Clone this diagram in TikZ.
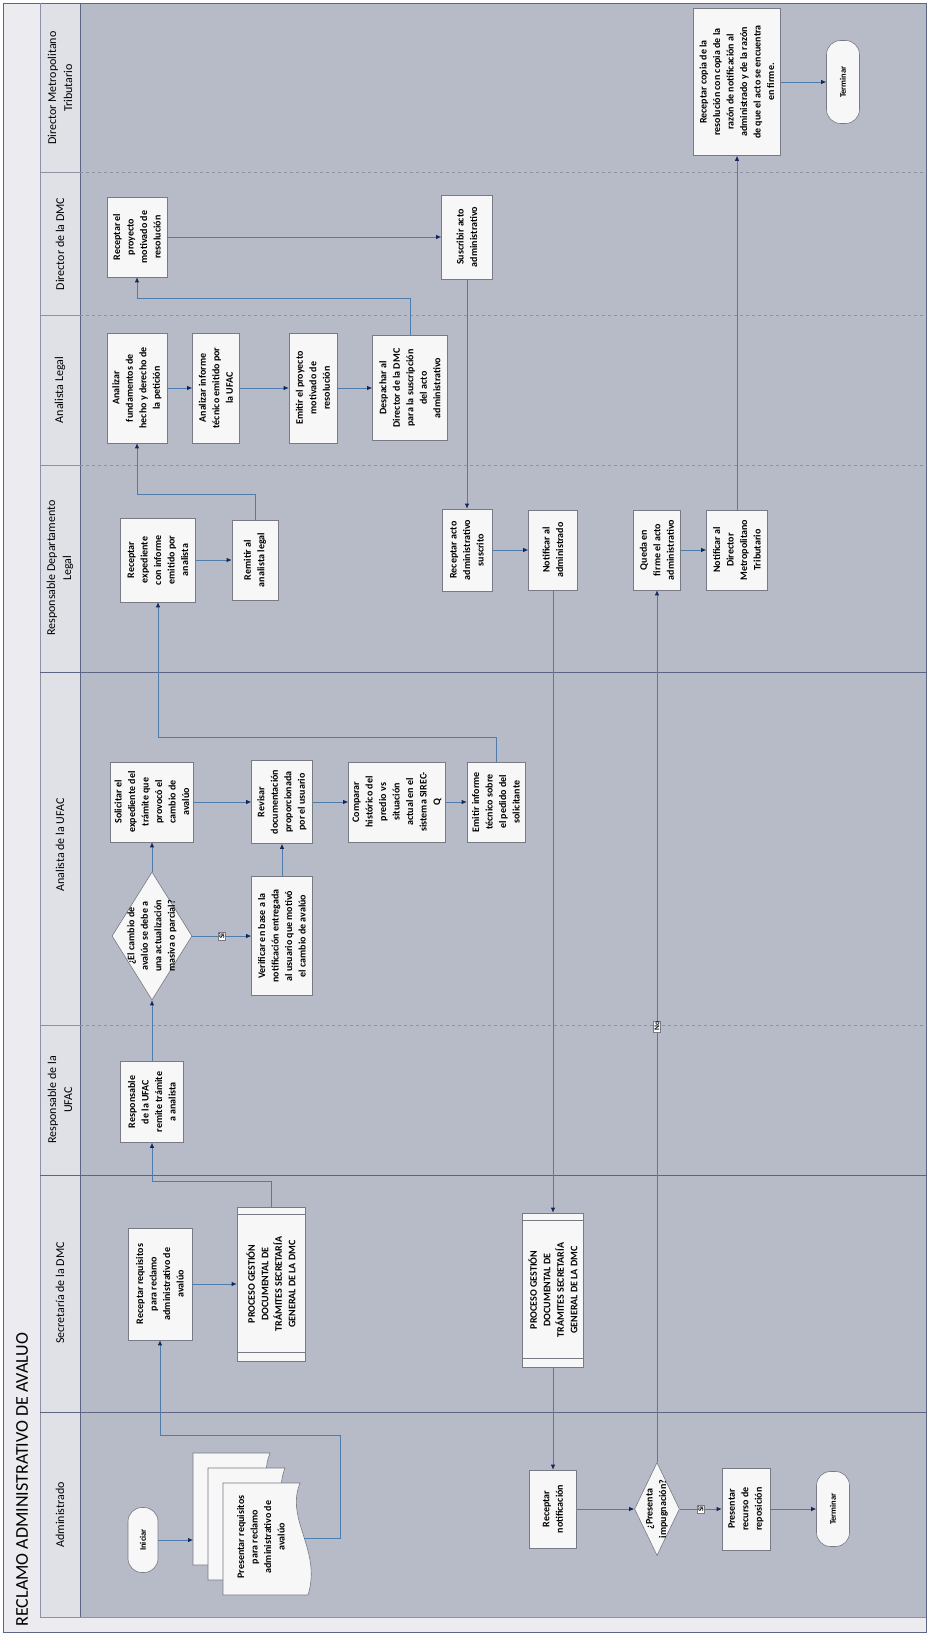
\documentclass[tikz,border=0pt]{standalone}
\usepackage{fontspec}
\setmainfont{Carlito}
\usepackage{graphicx}
\usetikzlibrary{arrows.meta,calc,shapes.geometric}
\definecolor{lanegray}{RGB}{183,187,199}
\definecolor{headgray}{RGB}{224,225,231}
\definecolor{titlegray}{RGB}{236,236,240}
\definecolor{lanerule}{RGB}{92,102,132}
\definecolor{lanedash}{RGB}{140,145,165}
\definecolor{flowblue}{RGB}{78,124,172}
\definecolor{tipnavy}{RGB}{22,38,92}
\definecolor{boxedge}{RGB}{120,122,132}
\definecolor{boxfill}{RGB}{247,247,247}
% vertical text block: width along the text, then the lines
\newcommand{\vt}[2]{\rotatebox{90}{\parbox{#1pt}{\centering #2}}}

\begin{document}
\begin{tikzpicture}[x=1pt, y=-1pt,
  every node/.style={font=\fontsize{10}{13.5}\selectfont\bfseries},
  task/.style={draw=boxedge, fill=boxfill, line width=0.6pt, inner sep=0pt},
  wh/.style 2 args={minimum width=#1, minimum height=#2},
  term/.style={task, rounded corners=14pt, font=\fontsize{8.5}{10}\selectfont\bfseries},
  decision/.style={task, diamond},
  docpage/.style={draw=boxedge, fill=boxfill, line width=0.6pt},
  flow/.style={draw=flowblue, line width=0.8pt, -{Latex[length=5pt,width=4.5pt,color=tipnavy]}},
  lbl/.style={fill=white, draw=boxedge, line width=0.4pt, inner sep=1pt, font=\fontsize{7.5}{8}\selectfont\bfseries},
  lanehead/.style={font=\fontsize{12}{16}\selectfont}]
  \useasboundingbox (0,0) rectangle (926,1637);

  % lanes
  \fill[titlegray] (3,3) rectangle (926,1632);
  \fill[headgray] (40,3) rectangle (80,1617);
  \fill[lanegray] (80,3) rectangle (926,1617);
  \draw[lanerule] (3,3) rectangle (926,1632);
  \draw[lanedash] (40,3) -- (40,1617) -- (926,1617);
  \draw[lanerule, line width=0.9pt] (80,3) -- (80,1617);
  \foreach \yy in {172,315,465,1025} {
    \draw[lanedash] (40,\yy) -- (80,\yy);
    \draw[lanedash, dashed] (80,\yy) -- (926,\yy);
  }
  \foreach \yy in {672,1175,1412}
    \draw[lanerule, line width=0.9pt] (40,\yy) -- (926,\yy);

  \node[anchor=south, font=\fontsize{18}{20}\selectfont] (title) at (22,1630) {\rotatebox{90}{RECLAMO ADMINISTRATIVO DE AVALUO}};
  \foreach \yy/\lname in {88/{Director Metropolitano\\Tributario}, 244/{Director de la DMC},
      390/{Analista Legal}, 568/{Responsable Departamento\\Legal}, 845/{Analista de la UFAC},
      1100/{Responsable de la\\UFAC}, 1293/{Secretaría de la DMC}, 1515/{Administrado}}
    \node[lanehead] (head\yy) at (60,\yy) {\vt{190}{\lname}};

  % Director Metropolitano Tributario
  \node[task, wh={87}{147}] (reccopia) at (737,82) {\vt{141}{Receptar copia de la\\resolución con copia de la\\razón de notificación al\\administrado y de la razón\\de que el acto se encuentra\\en firme.}};
  \node[term, wh={33}{83}] (fin1) at (843,82) {\rotatebox{90}{Terminar}};

  % Director de la DMC
  \node[task, wh={60}{80}] (recproy) at (137,237) {\vt{74}{Receptar el\\proyecto\\motivado de\\resolución}};
  \node[task, wh={51}{84}] (suscribir) at (467,237) {\vt{76}{Suscribir acto\\administrativo}};

  % Analista Legal
  \node[task, wh={60}{110}] (analfund) at (137,388) {\vt{102}{Analizar\\fundamentos de\\hecho y derecho de\\la petición}};
  \node[task, wh={47}{110}] (analinf) at (216,388) {\vt{102}{Analizar informe\\técnico emitido por\\la UFAC}};
  \node[task, wh={48}{110}] (emitproy) at (313,388) {\vt{102}{Emitir el proyecto\\motivado de\\resolución}};
  \node[task, wh={75}{105}] (despachar) at (410,388) {\vt{99}{Despachar al\\Director de la DMC\\para la suscripción\\del acto\\administrativo}};

  % Responsable Departamento Legal
  \node[task, wh={75}{84}] (recexp) at (158,560) {\vt{76}{Receptar\\expediente\\con informe\\emitido por\\analista}};
  \node[task, wh={46}{80}] (remitir) at (255,560) {\vt{72}{Remitir al\\analista legal}};
  \node[task, wh={50}{82}] (recacto) at (467,550) {\vt{74}{Receptar acto\\administrativo\\suscrito}};
  \node[task, wh={49}{80}] (notifadm) at (553,550) {\vt{72}{Notificar al\\administrado}};
  \node[task, wh={47}{80}] (queda) at (657,550) {\vt{72}{Queda en\\firme el acto\\administrativo}};
  \node[task, wh={61}{80}] (notifdir) at (737,550) {\vt{72}{Notificar al\\Director\\Metropolitano\\Tributario}};

  % Analista de la UFAC
  \node[decision, wh={80}{128}] (dec1) at (152,936) {};
  \node (dec1txt) at (dec1) {\vt{100}{¿El cambio de\\avalúo se debe a\\una actualización\\masiva o parcial?}};
  \node[task, wh={83}{80}] (solicitar) at (152,802) {\vt{74}{Solicitar el\\expediente del\\trámite que\\provocó el\\cambio de\\avalúo}};
  \node[task, wh={61}{119}] (verificar) at (282,936) {\vt{113}{Verificar en base a la\\notificación entregada\\al usuario que motivó\\el cambio de avalúo}};
  \node[task, wh={61}{83}] (revisar) at (282,802) {\vt{76}{Revisar\\documentación\\proporcionada\\por el usuario}};
  \node[task, wh={97}{80}] (comparar) at (397,802) {\vt{74}{Comparar\\histórico del\\predio vs\\situación\\actual en el\\sistema SIREC-\\Q}};
  \node[task, wh={58}{80}] (emitinf) at (496,802) {\vt{74}{Emitir informe\\técnico sobre\\el pedido del\\solicitante}};

  % Responsable de la UFAC
  \node[task, wh={63}{81}] (respufac) at (152,1102) {\vt{75}{Responsable\\de la UFAC\\remite trámite\\a analista}};

  % Secretaria de la DMC
  \node[task, wh={64}{112}] (recreq) at (160,1284) {\vt{106}{Receptar requisitos\\para reclamo\\administrativo de\\avalúo}};
  \node[task, wh={68}{154}] (proc1) at (271,1284) {\vt{134}{PROCESO GESTIÓN\\DOCUMENTAL DE\\TRÁMITES SECRETARÍA\\GENERAL DE LA DMC}};
  \node[task, wh={61}{154}] (proc2) at (553,1290) {\vt{134}{PROCESO GESTIÓN\\DOCUMENTAL DE\\TRÁMITES SECRETARÍA\\GENERAL DE LA DMC}};
  \foreach \pn in {proc1,proc2} {
    \draw[boxedge, line width=0.6pt] ($(\pn.north west)+(0,8)$) -- ($(\pn.north east)+(0,8)$);
    \draw[boxedge, line width=0.6pt] ($(\pn.south west)+(0,-9)$) -- ($(\pn.south east)+(0,-9)$);
  }

  % Administrado
  \node[term, wh={30}{65}] (inicio) at (143,1540) {\rotatebox{90}{Iniciar}};
  \foreach \d in {30,15,0}
    \filldraw[docpage, shift={(-\d,-\d)}] (223,1483) -- (300,1483)
      .. controls (285,1520) and (322,1550) .. (308,1595) -- (223,1595) -- cycle;
  \node (docfront) at (261,1537) {\vt{104}{Presentar requisitos\\para reclamo\\administrativo de\\avalúo}};
  \coordinate (docin) at (193,1540);
  \coordinate (docout) at (304,1538);
  \coordinate (docbend) at (340,1435);
  \node[task, wh={47}{78}] (recnotif) at (553,1509) {\vt{70}{Receptar\\notificación}};
  \node[decision, wh={45}{93}] (dec2) at (657,1509) {};
  \node (dec2txt) at (dec2) {\vt{70}{¿Presenta\\impugnación?}};
  \node[task, wh={48}{82}] (presentar) at (746,1509) {\vt{74}{Presentar\\recurso de\\reposición}};
  \node[term, wh={33}{75}] (fin2) at (833,1509) {\rotatebox{90}{Terminar}};

  % connectors
  \draw[flow] (inicio.east) -- (docin);
  \draw[flow] (docout) -| (docbend) -| (recreq.south);
  \draw[flow] (recreq) -- (proc1);
  \draw[flow] (proc1.north) -- ++(0,-25) -| (respufac.south);
  \draw[flow] (respufac) -- (dec1);
  \draw[flow] (dec1) -- (solicitar);
  \draw[flow] (dec1) -- node[lbl] {\rotatebox{90}{Sí}} (verificar);
  \draw[flow] (verificar) -- (revisar);
  \draw[flow] (solicitar) -- (revisar);
  \draw[flow] (revisar) -- (comparar);
  \draw[flow] (comparar) -- (emitinf);
  \draw[flow] (emitinf.north) -- ++(0,-24) -| (recexp.south);
  \draw[flow] (recexp) -- (remitir);
  \draw[flow] (remitir.north) -- ++(0,-25) -| (analfund.south);
  \draw[flow] (analfund) -- (analinf);
  \draw[flow] (analinf) -- (emitproy);
  \draw[flow] (emitproy) -- (despachar);
  \draw[flow] (despachar.north) -- ++(0,-37) -| (recproy.south);
  \draw[flow] (recproy) -- (suscribir);
  \draw[flow] (suscribir) -- (recacto);
  \draw[flow] (recacto) -- (notifadm);
  \draw[flow] (notifadm) -- (proc2);
  \draw[flow] (proc2) -- (recnotif);
  \draw[flow] (recnotif) -- (dec2);
  \draw[flow] (dec2) -- node[lbl] {\rotatebox{90}{No}} (queda);
  \draw[flow] (dec2) -- node[lbl] {\rotatebox{90}{Sí}} (presentar);
  \draw[flow] (presentar) -- (fin2);
  \draw[flow] (queda) -- (notifdir);
  \draw[flow] (notifdir) -- (reccopia);
  \draw[flow] (reccopia) -- (fin1);
\end{tikzpicture}
\end{document}
